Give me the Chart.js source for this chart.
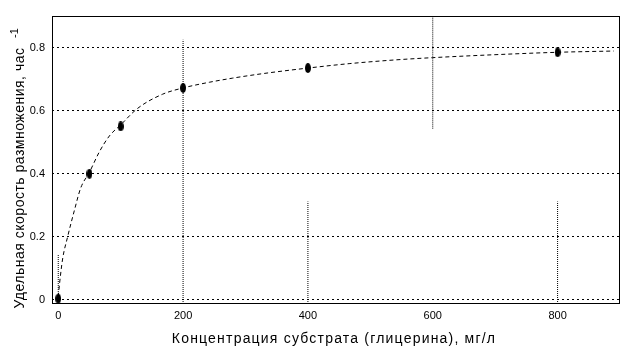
<!DOCTYPE html>
<html><head><meta charset="utf-8">
<script src="https://cdn.jsdelivr.net/npm/chart.js@4"></script>
<style>html,body{margin:0;padding:0;background:#fff}</style></head>
<body><canvas id="c" width="637" height="355"></canvas>
<script>
const substrate = [0, 50, 100, 200, 400, 800];
const growthRate = [0.004, 0.40, 0.55, 0.672, 0.735, 0.785];
const curveS = [0, 2, 7, 15, 26, 36, 50, 66, 82, 100, 127, 167, 200, 242, 279, 330, 400, 466, 541, 600, 707, 800, 890];
const curveMu = [0.01, 0.05, 0.13, 0.20, 0.285, 0.355, 0.405, 0.47, 0.52, 0.555, 0.607, 0.652, 0.672, 0.69, 0.703, 0.718, 0.735, 0.749, 0.761, 0.768, 0.778, 0.785, 0.789];
const xTicks = [0, 200, 400, 600, 800];
const yTicks = [0, 0.2, 0.4, 0.6, 0.8];
const guideX = [0, 200, 400, 600, 800];
const guideLow = [0, -0.0127, -0.0127, 0.543, -0.0127];
const guideHigh = [0.143, 0.825, 0.312, 0.9, 0.312];
const xTitle = 'Концентрация субстрата (глицерина), мг/л';
const yTitle = 'Удельная скорость размножения, час';
const yTitleSup = '-1';

function makeDot() {
  const c = document.createElement('canvas');
  c.width = 6; c.height = 10;
  const g = c.getContext('2d');
  g.fillStyle = '#000';
  g.beginPath(); g.ellipse(3, 5, 3, 5, 0, 0, Math.PI * 2); g.fill();
  return c;
}
const dot = makeDot();

const datasets = [
  {
    label: 'data', type: 'scatter',
    data: substrate.map((s, i) => ({x: s, y: growthRate[i]})),
    pointStyle: dot, pointRadius: 5, showLine: false
  },
  {
    label: 'fit', type: 'line',
    data: curveS.map((s, i) => ({x: s, y: curveMu[i]})),
    borderColor: '#000', borderWidth: 1, borderDash: [4, 3],
    pointRadius: 0, fill: false, cubicInterpolationMode: 'monotone'
  }
];
guideX.forEach((gx, i) => {
  datasets.push({
    label: 'g' + i, type: 'line',
    data: [{x: gx, y: guideLow[i]}, {x: gx, y: guideHigh[i]}],
    borderColor: '#000', borderWidth: 1, borderDash: [1, 1],
    pointRadius: 0, fill: false
  });
});

const decor = {
  id: 'decor',
  afterDraw(chart) {
    const {ctx, chartArea: a} = chart;
    ctx.save();
    ctx.strokeStyle = '#000'; ctx.lineWidth = 1; ctx.setLineDash([]);
    ctx.strokeRect(a.left + 0.5, a.top + 0.5, a.right - a.left - 1, a.bottom - a.top - 1);
    ctx.fillStyle = '#000';
    ctx.font = '14px "Liberation Sans", Arial, sans-serif';
    ctx.textAlign = 'center'; ctx.textBaseline = 'middle';
    ctx.letterSpacing = '1.2px';
    ctx.fillText(xTitle, 334, 339);
    ctx.letterSpacing = '0.5px';
    ctx.translate(20, 178);
    ctx.rotate(-Math.PI / 2);
    ctx.fillText(yTitle, 0, 0);
    ctx.letterSpacing = '0px';
    ctx.font = '11px "Liberation Sans", Arial, sans-serif';
    ctx.fillText(yTitleSup, 145, -5);
    ctx.restore();
  }
};

new Chart(document.getElementById('c'), {
  type: 'scatter',
  data: {datasets},
  options: {
    responsive: false, animation: false,
    layout: {padding: {left: 0, right: 17, top: 16, bottom: 0}},
    plugins: {legend: {display: false}, tooltip: {enabled: false}},
    scales: {
      x: {
        type: 'linear', min: -10, max: 900,
        afterBuildTicks: s => { s.ticks = xTicks.map(v => ({value: v})); },
        afterFit: s => { s.height = 51; },
        grid: {display: false, drawTicks: false},
        border: {display: false},
        ticks: {color: '#000', padding: 5, maxRotation: 0, font: {family: '"Liberation Sans", Arial', size: 11}}
      },
      y: {
        type: 'linear', min: -0.0127, max: 0.9,
        afterBuildTicks: s => { s.ticks = yTicks.map(v => ({value: v})); },
        afterFit: s => { s.width = 52; },
        grid: {color: '#000', lineWidth: 1, drawTicks: false},
        border: {display: false, dash: [2, 3]},
        ticks: {color: '#000', padding: 7, font: {family: '"Liberation Sans", Arial', size: 11}}
      }
    }
  },
  plugins: [decor]
});
</script></body></html>
